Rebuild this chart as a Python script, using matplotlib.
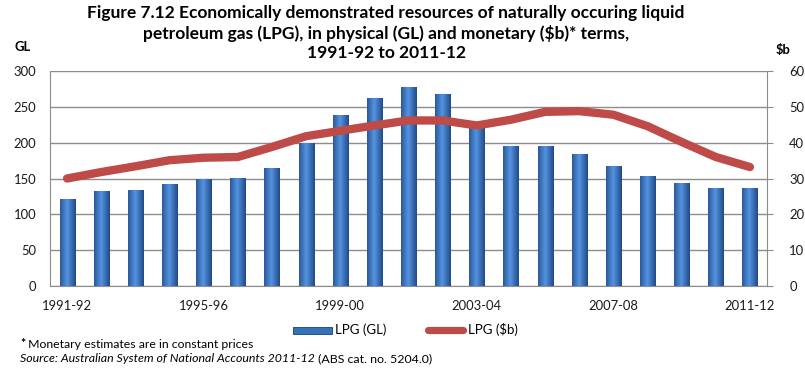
import matplotlib
matplotlib.use("Agg")
import matplotlib.pyplot as plt
import numpy as np
from matplotlib.patches import Rectangle
from matplotlib.lines import Line2D

plt.rcParams['font.family'] = ['Lato', 'DejaVu Sans']

years = ['1991-92', '1992-93', '1993-94', '1994-95', '1995-96', '1996-97', '1997-98',
         '1998-99', '1999-00', '2000-01', '2001-02', '2002-03', '2003-04', '2004-05',
         '2005-06', '2006-07', '2007-08', '2008-09', '2009-10', '2010-11', '2011-12']
lpg_gl = [122, 132, 134, 143, 149, 151, 164, 199, 238, 262, 278, 268, 226, 196,
          195, 184, 167, 154, 144, 137, 137]
lpg_b = [30.0, 31.8, 33.4, 35.1, 35.8, 36.0, 38.8, 41.8, 43.3, 44.8, 46.2, 46.2,
         44.8, 46.4, 48.6, 48.8, 47.8, 44.6, 40.2, 36.0, 33.2]
shown_labels = ['1991-92', '1995-96', '1999-00', '2003-04', '2007-08', '2011-12']

W, H = 805, 374
fig = plt.figure(figsize=(W / 100, H / 100), dpi=100)
renderer = fig.canvas.get_renderer()


def text_width(s, size, **kw):
    t = fig.text(0, 0, s, fontsize=size, **kw)
    w = t.get_window_extent(renderer=renderer).width
    t.remove()
    return w


def fit_size(s, target, **kw):
    return 10 * target / text_width(s, 10, **kw)


def px(xp, yp):
    return xp / W, 1 - yp / H


tick_fs = fit_size('1991-92', 50)

ax = fig.add_axes([50 / W, 88 / H, 717 / W, 215 / H])
x = np.arange(len(years))

bars = ax.bar(x, lpg_gl, width=0.44, color='#2F6DB5', edgecolor='#1B3F73',
              linewidth=0.6, zorder=3)
grad = np.linspace(0, 1, 64)
prof = np.clip(1 - np.abs(grad - 0.45) * 1.6, 0, 1)
dark = np.array([0.10, 0.25, 0.48])
light = np.array([0.33, 0.58, 0.88])
img = (dark[None, :] + (light - dark)[None, :] * prof[:, None])[None, :, :]
for b in bars:
    im = ax.imshow(img, extent=(b.get_x(), b.get_x() + b.get_width(), 0, b.get_height()),
                   aspect='auto', zorder=3.5, interpolation='bilinear')
    im.set_clip_path(b)

ax.set_xlim(-0.5, len(years) - 0.5)
ax.set_ylim(0, 300)
ax.set_yticks(np.arange(0, 301, 50))
ax.yaxis.grid(True, color='#8C8C8C', linewidth=1.0, zorder=0)
ax.set_axisbelow(True)
ax.set_xticks([years.index(l) for l in shown_labels])
ax.set_xticklabels(shown_labels)
ax.tick_params(axis='x', length=0, pad=10, labelsize=tick_fs, labelcolor='#1a1a1a')
ax.tick_params(axis='y', length=0, labelsize=tick_fs, labelcolor='#1a1a1a', pad=10)
for s in ['top', 'right']:
    ax.spines[s].set_visible(False)
for s in ['left', 'bottom']:
    ax.spines[s].set_color('#8C8C8C')

ax2 = ax.twinx()
ax2.plot(x, lpg_b, color='#BE4B48', linewidth=6, solid_capstyle='round',
         solid_joinstyle='round', zorder=5)
ax2.set_ylim(0, 60)
ax2.set_yticks(np.arange(0, 61, 10))
ax2.tick_params(axis='y', length=4, direction='out', labelsize=tick_fs, color='#8C8C8C',
                labelcolor='#1a1a1a', pad=12)
for s in ['top', 'left', 'bottom']:
    ax2.spines[s].set_visible(False)
ax2.spines['right'].set_color('#8C8C8C')

title1 = 'Figure 7.12 Economically demonstrated resources of naturally occuring liquid'
title_fs = fit_size(title1, 598, fontweight='bold')
fig.text(*px(386, 13), title1, ha='center', va='center', fontsize=title_fs, fontweight='bold')
fig.text(*px(386, 33), 'petroleum gas (LPG), in physical (GL) and monetary ($b)* terms,',
         ha='center', va='center', fontsize=title_fs, fontweight='bold')
fig.text(*px(386, 53), '1991-92 to 2011-12',
         ha='center', va='center', fontsize=title_fs, fontweight='bold')
fig.text(*px(23, 47), 'GL', ha='center', va='center', fontsize=tick_fs, fontweight='bold')
fig.text(*px(783, 50), '$b', ha='center', va='center', fontsize=tick_fs, fontweight='bold')

# legend
leg_fs = fit_size('LPG (GL)', 51)
x0, y0 = px(293, 334)
fig.patches.append(Rectangle((x0, y0), 39 / W, 7 / H, transform=fig.transFigure,
                             facecolor='#3572BA', edgecolor='#1B3F73', linewidth=0.6))
fig.text(*px(335, 330), 'LPG (GL)', ha='left', va='center', fontsize=leg_fs)
fig.lines.append(Line2D([428 / W, 463 / W], [1 - 330 / H, 1 - 330 / H], transform=fig.transFigure,
                        color='#BE4B48', linewidth=5.2, solid_capstyle='round'))
fig.text(*px(468, 330), 'LPG ($b)', ha='left', va='center', fontsize=leg_fs)

# footnotes
foot = ' Monetary estimates are in constant prices'
foot_fs = fit_size('*' + foot, 234)
star = fig.text(*px(20, 344), '*', ha='left', va='center', fontsize=foot_fs, fontweight='bold')
sb = star.get_window_extent(renderer=renderer)
fig.text(sb.x1 / W, 1 - 344 / H, foot, ha='left', va='center', fontsize=foot_fs)

src_it = 'Source: Australian System of National Accounts 2011-12'
src_rm = ' (ABS cat. no. 5204.0)'
w_all = text_width(src_it, 10, style='italic') + text_width(src_rm, 10)
src_fs = 10 * 412 / w_all
t1 = fig.text(*px(20, 359), src_it, ha='left', va='center', fontsize=src_fs, style='italic')
bb = t1.get_window_extent(renderer=renderer)
fig.text(bb.x1 / W, 1 - 359 / H, src_rm, ha='left', va='center', fontsize=src_fs)

fig.savefig('out.png', dpi=100)
